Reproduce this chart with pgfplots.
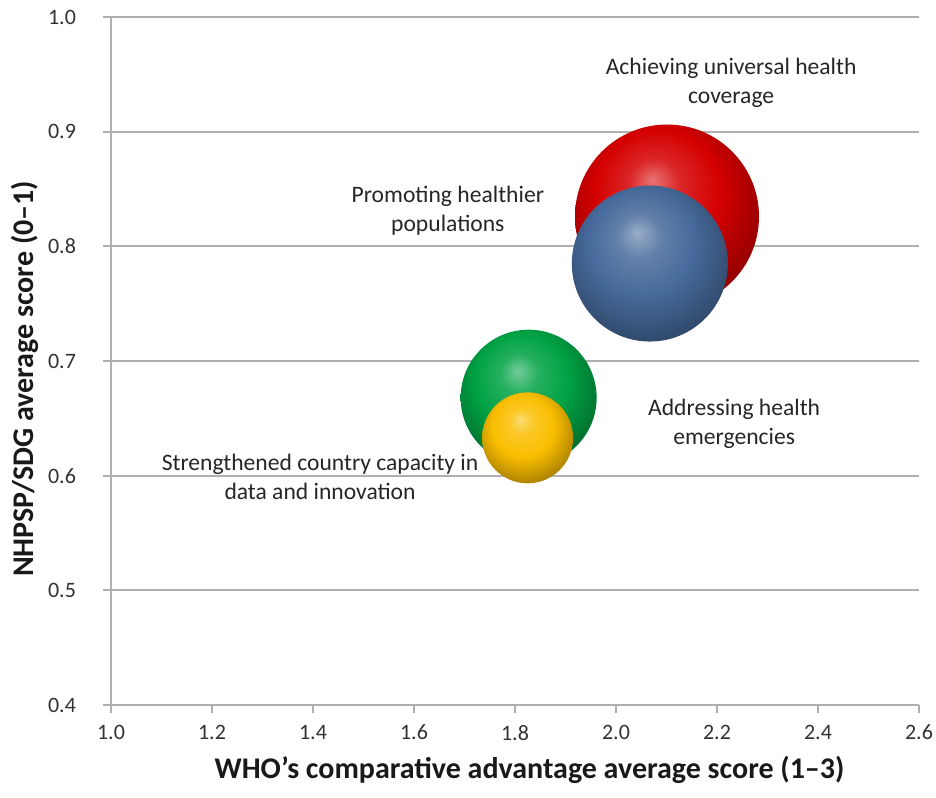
\documentclass[border=0pt]{standalone}
\usepackage{fontspec}
\setmainfont{Carlito}
\usepackage{pgfplots}
\pgfplotsset{compat=1.18}

\definecolor{gridgray}{RGB}{175,175,175}
\definecolor{ticktext}{RGB}{50,50,50}
\definecolor{bubRed}{RGB}{212,0,0}
\definecolor{bubBlue}{RGB}{70,106,155}
\definecolor{bubGreen}{RGB}{0,162,68}
\definecolor{bubYellow}{RGB}{250,190,0}

% Softer, more saturated sphere shading for the bubbles
\makeatletter
\pgfdeclareradialshading[tikz@ball]{ball}{\pgfqpoint{-4bp}{10bp}}{%
  color(0bp)=(tikz@ball!55!white);
  color(7bp)=(tikz@ball!85!white);
  color(17bp)=(tikz@ball);
  color(27bp)=(tikz@ball!75!black);
  color(38bp)=(tikz@ball!48!black);
  color(50bp)=(tikz@ball!40!black)}
\makeatother

\begin{document}
\begin{tikzpicture}
\useasboundingbox (-55.5pt,-46pt) rectangle (412.5pt,352.5pt);
\begin{axis}[
  at={(0pt,0pt)}, anchor=south west,
  scale only axis, width=404pt, height=344pt,
  xmin=1, xmax=2.6, ymin=0.4, ymax=1.0,
  xtick={1.0,1.2,1.4,1.6,1.8,2.0,2.2,2.4,2.6},
  ytick={0.4,0.5,0.6,0.7,0.8,0.9,1.0},
  axis lines=left,
  axis line style={-, gridgray, line width=1pt},
  ymajorgrids,
  grid style={gridgray, line width=1pt},
  tick align=outside,
  major tick length=4pt,
  tick style={gridgray, line width=1pt},
  /pgf/number format/assume math mode=true,
  /pgf/number format/fixed,
  /pgf/number format/fixed zerofill,
  /pgf/number format/precision=1,
  tick label style={font=\fontsize{11}{13}\selectfont, text=ticktext},
  xticklabel style={font=\fontsize{11}{13}\selectfont, yshift=-2.5pt},
  yticklabel style={font=\fontsize{11}{13}\selectfont, xshift=-10pt},
  every axis x label/.style={at={(axis description cs:0.518,-0.0945)}, anchor=center},
  every axis y label/.style={at={(axis description cs:-0.1064,0.474)}, anchor=center, rotate=90},
  label style={font=\fontsize{15}{18}\selectfont\bfseries, text=black!90},
  xlabel={WHO’s comparative advantage average score (1–3)},
  ylabel={NHPSP/SDG average score (0–1)},
  clip=false,
]
% Bubbles, drawn largest-behind so the overlaps read correctly
\addplot[only marks, mark=ball, mark size=46pt, mark options={ball color=bubRed, draw opacity=0}]
  coordinates {(2.101,0.826)};
\addplot[only marks, mark=ball, mark size=39pt, mark options={ball color=bubBlue, draw opacity=0}]
  coordinates {(2.067,0.785)};
\addplot[only marks, mark=ball, mark size=34pt, mark options={ball color=bubGreen, draw opacity=0}]
  coordinates {(1.827,0.668)};
\addplot[only marks, mark=ball, mark size=22.75pt, mark options={ball color=bubYellow, draw opacity=0}]
  coordinates {(1.825,0.633)};

\begin{scope}[every node/.style={align=center, text=black!85, font=\fontsize{11.8}{14.5}\selectfont}]
\node at (axis cs:2.228,0.943) {Achieving universal health\\coverage};
\node at (axis cs:1.667,0.831) {Promoting healthier\\populations};
\node at (axis cs:2.234,0.645) {Addressing health\\emergencies};
\node at (axis cs:1.414,0.599) {Strengthened country capacity in\\data and innovation};
\end{scope}
\end{axis}
\end{tikzpicture}
\end{document}
